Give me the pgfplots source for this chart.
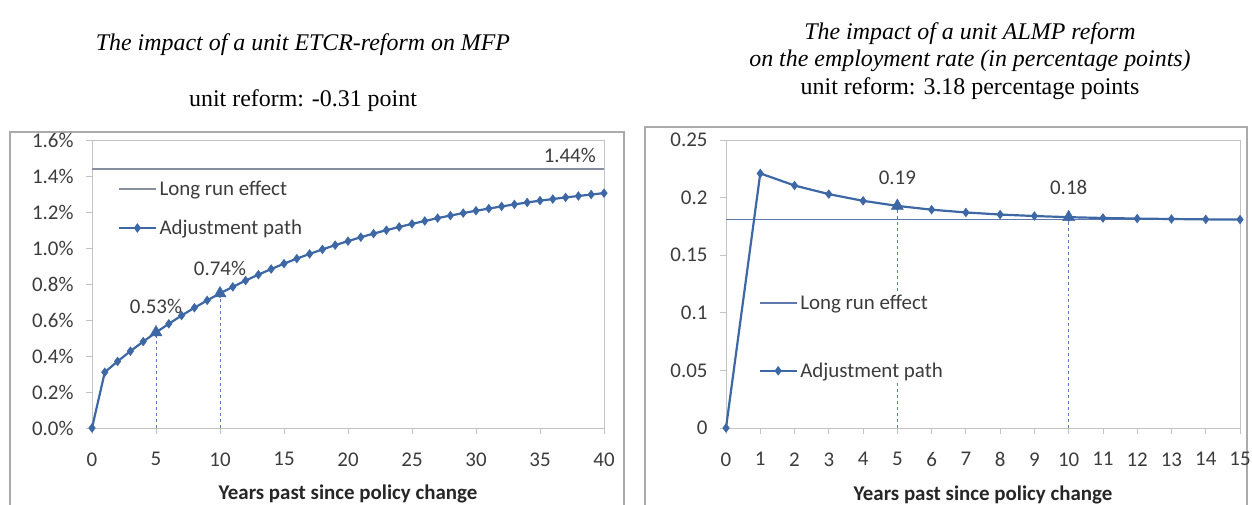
\documentclass[border=0pt]{standalone}
\usepackage{fontspec}
\setmainfont{Liberation Serif}
\newfontfamily\carl{Carlito}
\usepackage{pgfplots}
\pgfplotsset{compat=1.18}
\definecolor{blu}{RGB}{62,104,165}
\definecolor{dsh}{RGB}{90,125,185}
\definecolor{axg}{RGB}{195,195,195}
\definecolor{frm}{RGB}{170,170,170}
\definecolor{lrL}{RGB}{135,142,160}
\definecolor{lrR}{RGB}{95,120,175}
\definecolor{txt}{RGB}{60,60,60}
\tikzset{dlab/.style={font=\carl\fontsize{21}{24}\selectfont, text=txt, inner sep=0pt}}
\pgfplotsset{
 myax/.style={
  scale only axis, height=288bp,
  axis line style={axg, line width=0.8bp},
  every tick/.style={axg, line width=0.8bp},
  tick align=outside, major tick length=6bp,
  xtick pos=bottom, ytick pos=left,
  ticklabel style={font=\carl\fontsize{21}{24}\selectfont, text=txt},
  xticklabel style={yshift=-15bp},
  yticklabel style={xshift=-9bp},
  /pgf/number format/assume math mode=true,
  scaled y ticks=false,
  xlabel={Years past since policy change},
  xlabel style={font=\carl\bfseries\fontsize{21}{24}\selectfont, text=black!85, yshift=-12bp},
  legend cell align=left,
  legend image code/.code={\draw[mark repeat=2,mark phase=2,#1] plot coordinates {(0bp,0bp) (18bp,0bp) (37bp,0bp)};},
  legend style={draw=none, fill=white, inner sep=0pt, font=\carl\fontsize{21}{24}\selectfont, text=txt, anchor=north west},
  clip=false,
 },
}
\begin{document}
\begin{tikzpicture}
\path[use as bounding box] (0bp,0bp) rectangle (1252bp,505bp);
\draw[frm, line width=1.2bp] (10bp,-10bp) -- (10bp,373bp) -- (624bp,373bp) -- (624bp,-10bp);
\draw[frm, line width=1.2bp] (645bp,-10bp) -- (645bp,378bp) -- (1247bp,378bp) -- (1247bp,-10bp);
\node[font=\fontsize{24}{27.5}\selectfont\itshape] at (303bp,460bp) {The impact of a unit ETCR-reform on MFP};
\node[font=\fontsize{24}{27.5}\selectfont] at (303bp,404bp) {unit reform: -0.31 point};
\node[font=\fontsize{24}{27.5}\selectfont, align=center] at (970bp,444bp) {\textit{The impact of a unit ALMP reform}\\ \textit{on the employment rate (in percentage points)}\\ unit reform: 3.18 percentage points};

\begin{axis}[myax, at={(92bp,77bp)}, anchor=south west, width=512bp,
  xmin=0, xmax=40, ymin=0, ymax=1.6,
  xtick={0,5,10,15,20,25,30,35,40},
  ytick={0,0.2,0.4,0.6,0.8,1.0,1.2,1.4,1.6},
  yticklabel={\pgfmathprintnumber[fixed,fixed zerofill,precision=1]{\tick}\%},
  legend style={at={(0.051,0.865)}, row sep=19bp},
]
\addplot[lrL, line width=1.6bp, no marks] coordinates {(0,1.44) (40,1.44)};
\addlegendentry{Long run effect}
\addplot[blu, line width=2.2bp, mark=diamond*, mark size=3bp, mark options={solid}] coordinates {
(0,0) (1,0.310) (2,0.370) (3,0.427) (4,0.480) (5,0.531) (6,0.579) (7,0.625) (8,0.668) (9,0.709)
(10,0.748) (11,0.784) (12,0.819) (13,0.852) (14,0.883) (15,0.913) (16,0.941) (17,0.967) (18,0.992)
(19,1.016) (20,1.038) (21,1.060) (22,1.080) (23,1.099) (24,1.117) (25,1.134) (26,1.150) (27,1.166)
(28,1.180) (29,1.194) (30,1.207) (31,1.219) (32,1.231) (33,1.242) (34,1.253) (35,1.263) (36,1.272)
(37,1.281) (38,1.289) (39,1.297) (40,1.305)};
\addlegendentry{Adjustment path}
\addplot[dsh, line width=0.9bp, dashed, no marks, forget plot] coordinates {(5,0) (5,0.531)};
\addplot[dsh, line width=0.9bp, dashed, no marks, forget plot] coordinates {(10,0) (10,0.748)};
\addplot[blu, only marks, mark=triangle*, mark size=7bp, forget plot] coordinates {(5,0.531) (10,0.748)};
\node[dlab] at (axis cs:5,0.531) [yshift=26bp] {0.53\%};
\node[dlab] at (axis cs:10,0.748) [yshift=25bp] {0.74\%};
\node[dlab, anchor=south east] at (axis cs:40,1.44) [xshift=-8bp, yshift=6bp] {1.44\%};
\end{axis}

\begin{axis}[myax, at={(726bp,77bp)}, anchor=south west, width=514bp,
  xmin=0, xmax=15, ymin=0, ymax=0.25,
  xtick={0,1,2,3,4,5,6,7,8,9,10,11,12,13,14,15},
  ytick={0,0.05,0.1,0.15,0.2,0.25},
  yticklabels={0,0.05,0.1,0.15,0.2,0.25},
  legend style={at={(0.064,0.47)}, row sep=48bp},
]
\addplot[lrR, line width=1.6bp, no marks] coordinates {(0,0.181) (15,0.181)};
\addlegendentry{Long run effect}
\addplot[blu, line width=2.2bp, mark=diamond*, mark size=3bp, mark options={solid}] coordinates {
(0,0) (1,0.221) (2,0.2105) (3,0.2030) (4,0.1972) (5,0.1928) (6,0.1895) (7,0.1871) (8,0.1853)
(9,0.1840) (10,0.1830) (11,0.1823) (12,0.1818) (13,0.1814) (14,0.1811) (15,0.1809)};
\addlegendentry{Adjustment path}
\addplot[dsh, line width=0.9bp, dashed, no marks, forget plot] coordinates {(5,0) (5,0.1928)};
\addplot[dsh, line width=0.9bp, dashed, no marks, forget plot] coordinates {(10,0) (10,0.1830)};
\addplot[blu, only marks, mark=triangle*, mark size=7bp, forget plot] coordinates {(5,0.1928) (10,0.1830)};
\node[dlab] at (axis cs:5,0.1928) [yshift=28bp] {0.19};
\node[dlab] at (axis cs:10,0.1830) [yshift=30bp] {0.18};
\end{axis}
\end{tikzpicture}
\end{document}
